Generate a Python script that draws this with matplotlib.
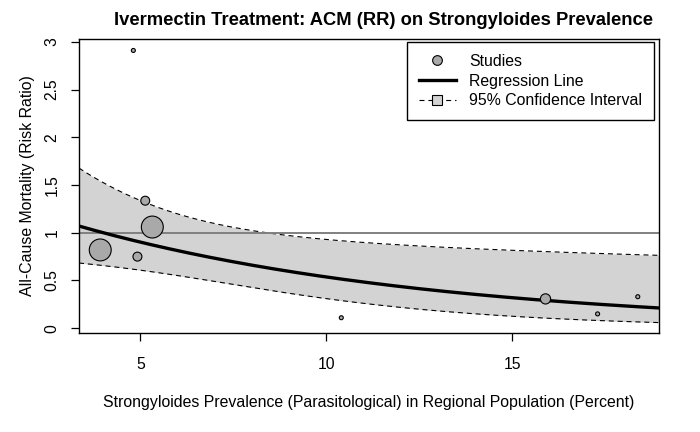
import numpy as np
import matplotlib
matplotlib.use("Agg")
import matplotlib.pyplot as plt
from matplotlib.lines import Line2D

plt.rcParams['font.family'] = ['Liberation Sans', 'DejaVu Sans']

# Study data
prevalence = [4.81, 5.13, 5.32, 3.92, 4.92, 10.4, 15.89, 17.29, 18.37]
risk_ratio = [2.91, 1.336, 1.06, 0.82, 0.75, 0.11, 0.307, 0.15, 0.33]
weights = [1.0, 5.0, 30.0, 30.0, 5.0, 1.0, 6.5, 1.0, 1.0]

# Meta-regression (log RR = b0 + b1 * x) and its covariance
coef_intercept = 0.4157
coef_slope = -0.1038
var_intercept = 0.1146
cov_int_slope = -0.01303
var_slope = 0.002246

x_ticks = [5, 10, 15]
y_ticks = [0, 0.5, 1, 1.5, 2, 2.5, 3]
y_ticklabels = ["0", "0.5", "1", "1.5", "2", "2.5", "3"]

title = "Ivermectin Treatment: ACM (RR) on Strongyloides Prevalence"
xlabel = "Strongyloides Prevalence (Parasitological) in Regional Population (Percent)"
ylabel = "All-Cause Mortality (Risk Ratio)"

fig = plt.figure(figsize=(7.0, 4.32), dpi=100)
ax = fig.add_axes([0.1129, 0.2292, 0.8285, 0.6805])

xmin, xmax = 3.35, 18.94
ax.set_xlim(xmin, xmax)
ax.set_ylim(-0.05, 3.03)

xs = np.linspace(xmin, xmax, 300)
pred = coef_intercept + coef_slope * xs
se = np.sqrt(var_intercept + 2 * cov_int_slope * xs + var_slope * xs ** 2)
lo = np.exp(pred - 1.96 * se)
hi = np.exp(pred + 1.96 * se)

dash = (0, (4.5, 3.5))
ax.fill_between(xs, lo, hi, color="#d3d3d3", linewidth=0, zorder=1)
ax.plot(xs, lo, color="black", linestyle=dash, linewidth=0.8, zorder=2)
ax.plot(xs, hi, color="black", linestyle=dash, linewidth=0.8, zorder=2)
ax.axhline(1, color="#808080", linewidth=1.4, zorder=2)
ax.plot(xs, np.exp(pred), color="black", linewidth=2.4, zorder=3)

sizes = [8.3 * w for w in weights]
ax.scatter(prevalence, risk_ratio, s=sizes, facecolor="#a9a9a9",
           edgecolor="black", linewidth=0.8, zorder=4)

ax.set_xticks(x_ticks)
ax.set_yticks(y_ticks)
ax.set_yticklabels(y_ticklabels, rotation=90, va="center")
ax.tick_params(axis="both", direction="out", length=6, width=0.9,
               labelsize=11.3, colors="black")
ax.tick_params(axis="x", pad=11)
ax.tick_params(axis="y", pad=8)
for sp in ax.spines.values():
    sp.set_linewidth(1.0)
    sp.set_color("black")

fig.text(0.548, 0.953, title, ha="center", va="center",
         fontsize=13.2, fontweight="bold")
fig.text(0.527, 0.069, xlabel, ha="center", va="center", fontsize=11.4)
fig.text(0.040, 0.5694, ylabel, ha="center", va="center", fontsize=11.4,
         rotation=90)

handles = [
    Line2D([], [], linestyle="none", marker="o", markersize=7,
           markerfacecolor="#a9a9a9", markeredgecolor="black",
           markeredgewidth=0.8),
    Line2D([], [], color="black", linewidth=2.4),
    Line2D([], [], color="black", linewidth=0.8, linestyle=dash,
           marker="s", markersize=6.5, markerfacecolor="#d3d3d3",
           markeredgecolor="black", markeredgewidth=0.8),
]
labels = ["Studies", "Regression Line", "95% Confidence Interval"]
leg = ax.legend(handles, labels, loc="upper right",
                bbox_to_anchor=(0.9914, 0.9898), borderaxespad=0,
                fancybox=False, edgecolor="black", framealpha=1,
                fontsize=11.4, handlelength=2.3, handletextpad=0.85,
                labelspacing=0.3, borderpad=0.75, numpoints=1)
leg.get_frame().set_linewidth(1.0)

fig.savefig("out.png", dpi=100)
